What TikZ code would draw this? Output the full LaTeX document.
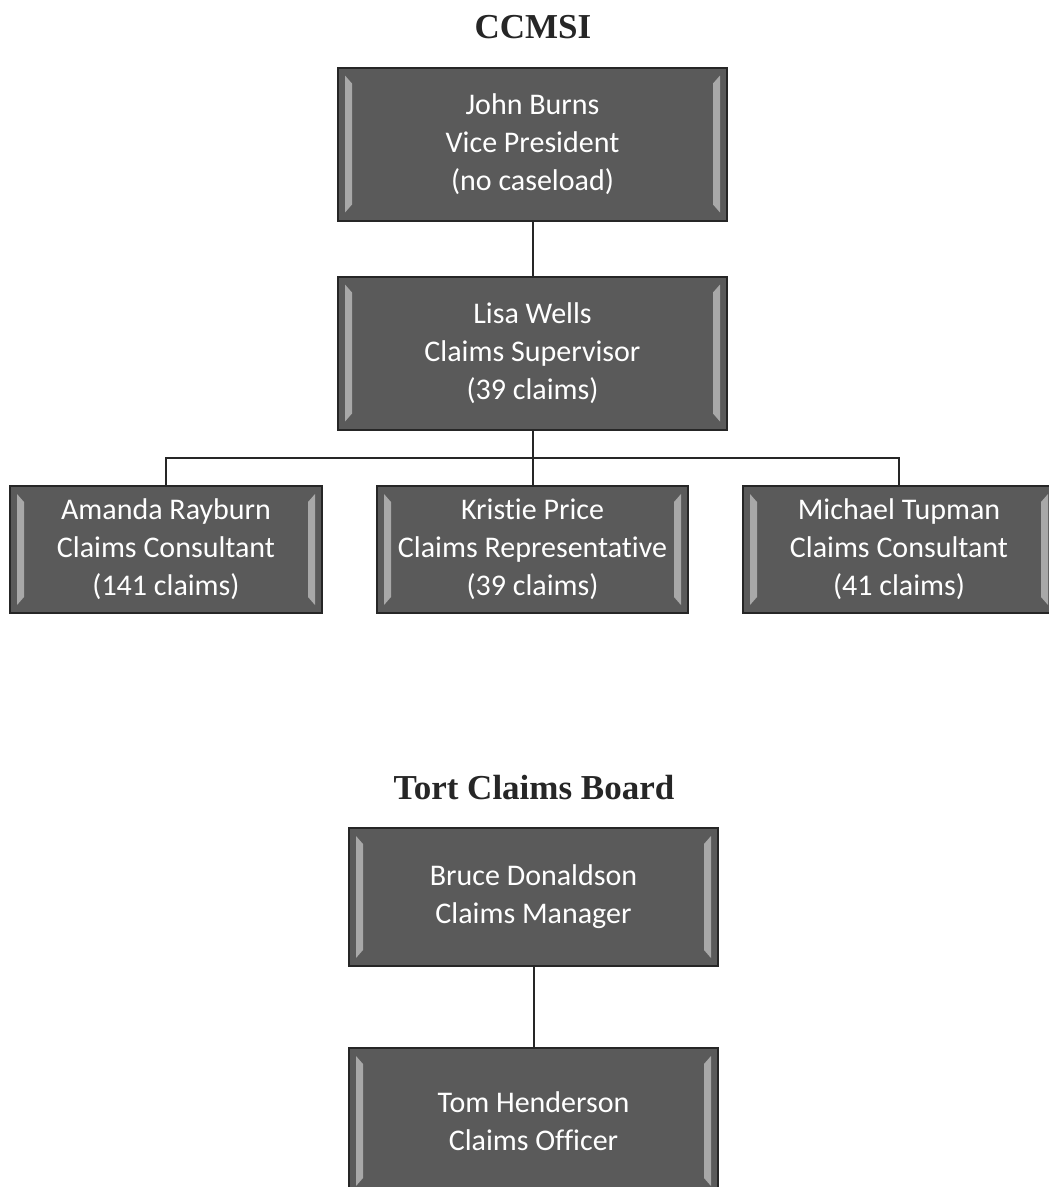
\documentclass[tikz,border=0pt]{standalone}
\usepackage{fontspec}
\setmainfont[Ligatures=NoCommon]{Carlito}
\newfontfamily\titlefont{Liberation Serif}
\begin{document}
\begin{tikzpicture}[x=1pt,y=-1pt,
  box/.style={draw=black!85, line width=2pt, fill=boxgray, text=white, align=center,
    font=\fontsize{30}{38}\selectfont, inner sep=0pt,
    path picture={
      \fill[bevellight] ([xshift=7pt,yshift=-8pt]path picture bounding box.north west) -- ([xshift=14pt,yshift=-16pt]path picture bounding box.north west)
        -- ([xshift=14pt,yshift=16pt]path picture bounding box.south west) -- ([xshift=7pt,yshift=8pt]path picture bounding box.south west) -- cycle;
      \fill[bevellight] ([xshift=-7pt,yshift=-8pt]path picture bounding box.north east) -- ([xshift=-14pt,yshift=-16pt]path picture bounding box.north east)
        -- ([xshift=-14pt,yshift=16pt]path picture bounding box.south east) -- ([xshift=-7pt,yshift=8pt]path picture bounding box.south east) -- cycle;
    }},
  ttl/.style={font=\titlefont\bfseries\fontsize{35}{40}\selectfont, text=black!85},
  link/.style={draw=black!85, line width=2pt}]
\definecolor{boxgray}{HTML}{5A5A5A}
\definecolor{bevellight}{HTML}{A8A8A8}
\useasboundingbox[fill=white] (0,0) rectangle (1049,1187);
\clip (0,0) rectangle (1049,1187);

\node[ttl] (t1) at (533,27) {CCMSI};
\node[box, minimum width=389pt, minimum height=153pt] (jb) at (532.5,144) {John Burns\\Vice President\\(no caseload)};
\node[box, minimum width=389pt, minimum height=153pt] (lw) at (532.5,353) {Lisa Wells\\Claims Supervisor\\(39 claims)};
\node[box, minimum width=312pt, minimum height=127pt] (ar) at (166,549.5) {Amanda Rayburn\\Claims Consultant\\(141 claims)};
\node[box, minimum width=311pt, minimum height=127pt] (kp) at (532.5,549.5) {Kristie Price\\Claims Representative\\(39 claims)};
\node[box, minimum width=312pt, minimum height=127pt] (mt) at (899,549.5) {Michael Tupman\\Claims Consultant\\(41 claims)};

\draw[link] (jb.south) -- (lw.north);
\coordinate (bus) at (532.5,457.5);
\draw[link] (lw.south) -- (bus);
\draw[link] (bus) -- (kp.north);
\draw[link] (ar.north) |- (bus) -| (mt.north);

\node[ttl] (t2) at (534,788) {Tort Claims Board};
\node[box, minimum width=369pt, minimum height=138pt] (bd) at (533.5,897) {Bruce Donaldson\\Claims Manager};
\node[box, minimum width=369pt, minimum height=146pt] (th) at (533.5,1121) {Tom Henderson\\Claims Officer};
\draw[link] (bd.south) -- (th.north);
\end{tikzpicture}
\end{document}
